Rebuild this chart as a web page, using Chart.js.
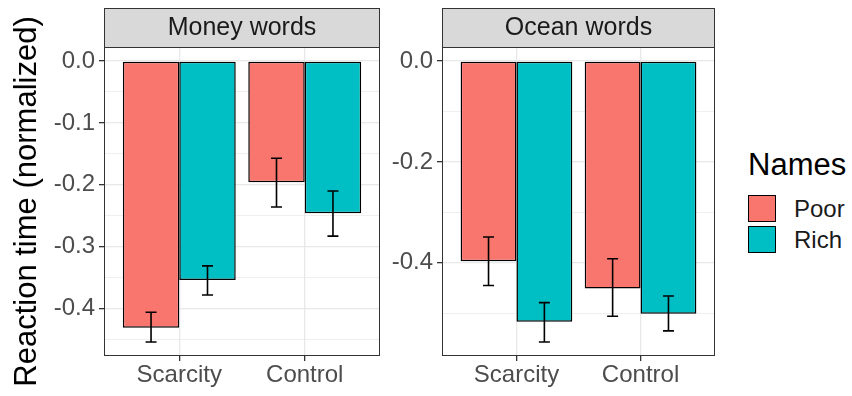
<!DOCTYPE html>
<html>
<head>
<meta charset="utf-8">
<script src="https://cdn.jsdelivr.net/npm/chart.js@4.4.1/dist/chart.umd.min.js"></script>
<style>
    html, body { margin: 0; padding: 0; background: #fff; }
    #wrap { position: relative; width: 852px; height: 396px; overflow: hidden; font-family: "Liberation Sans", Arial, sans-serif; }
    canvas { position: absolute; top: 0; }
    #moneyChart { left: 0; }
    #oceanChart { left: 384px; }
    .leg-title { position: absolute; left: 748px; top: 149px; font-size: 31px; line-height: 31px; color: #000; }
    .leg-key { position: absolute; left: 748px; width: 26px; height: 25px; border: 1.5px solid #000; }
    .leg-label { position: absolute; left: 794px; font-size: 24px; line-height: 24px; color: #1a1a1a; }
</style>
</head>
<body>
<div id="wrap">
    <canvas id="moneyChart" width="384" height="396"></canvas>
    <canvas id="oceanChart" width="340" height="396"></canvas>
    <div id="legend"></div>
</div>
<script>
// --- Data ---
const categories = ['Scarcity', 'Control'];
const groups = ['Poor', 'Rich'];
const groupColors = ['#F8766D', '#00BFC4'];
const panelTitles = ['Money words', 'Ocean words'];
const legendTitle = 'Names';
const yTitle = 'Reaction time (normalized)';

// Money words
const moneyPoor = [-0.431, -0.196];
const moneyRich = [-0.354, -0.246];
const moneyPoorLow = [-0.454, -0.236];
const moneyPoorHigh = [-0.406, -0.157];
const moneyRichLow = [-0.378, -0.283];
const moneyRichHigh = [-0.331, -0.210];
const moneyTicks = [0, -0.1, -0.2, -0.3, -0.4];
const moneyMinorTicks = [-0.05, -0.15, -0.25, -0.35, -0.45];

// Ocean words
const oceanPoor = [-0.397, -0.451];
const oceanRich = [-0.517, -0.501];
const oceanPoorLow = [-0.445, -0.506];
const oceanPoorHigh = [-0.349, -0.392];
const oceanRichLow = [-0.557, -0.535];
const oceanRichHigh = [-0.479, -0.466];
const oceanTicks = [0, -0.2, -0.4];
const oceanMinorTicks = [-0.1, -0.3, -0.5];

const FONT = '"Liberation Sans", Arial, sans-serif';

// --- Plugins ---
const errorBarPlugin = {
    id: 'errorBars',
    afterDatasetsDraw(chart, args, opts) {
        const ctx = chart.ctx;
        const yScale = chart.scales.y;
        ctx.save();
        ctx.strokeStyle = '#000';
        ctx.lineWidth = 1.6;
        chart.data.datasets.forEach((ds, d) => {
            const meta = chart.getDatasetMeta(d);
            meta.data.forEach((bar, i) => {
                const yLo = yScale.getPixelForValue(opts.lows[d][i]);
                const yHi = yScale.getPixelForValue(opts.highs[d][i]);
                const half = 5.5;
                ctx.beginPath();
                ctx.moveTo(bar.x, yLo); ctx.lineTo(bar.x, yHi);
                ctx.moveTo(bar.x - half, yLo); ctx.lineTo(bar.x + half, yLo);
                ctx.moveTo(bar.x - half, yHi); ctx.lineTo(bar.x + half, yHi);
                ctx.stroke();
            });
        });
        ctx.restore();
    }
};

const facetPlugin = {
    id: 'facet',
    afterDraw(chart, args, opts) {
        const ctx = chart.ctx;
        const a = chart.chartArea;
        ctx.save();
        // panel border
        ctx.strokeStyle = '#333';
        ctx.lineWidth = 1;
        ctx.strokeRect(Math.round(a.left) + 0.5, Math.round(a.top) + 0.5, Math.round(a.right - a.left) - 1, Math.round(a.bottom - a.top) - 1);
        // strip
        const top = 8;
        ctx.fillStyle = '#D9D9D9';
        ctx.fillRect(a.left, top, a.right - a.left, a.top - top);
        ctx.strokeRect(Math.round(a.left) + 0.5, top + 0.5, Math.round(a.right - a.left) - 1, Math.round(a.top - top));
        ctx.fillStyle = '#1A1A1A';
        ctx.font = '25px ' + FONT;
        ctx.textAlign = 'center';
        ctx.textBaseline = 'middle';
        ctx.fillText(opts.text, (a.left + a.right) / 2, (top + a.top) / 2 + 1);
        // y axis title
        if (opts.yTitle) {
            ctx.translate(27, (a.top + a.bottom) / 2);
            ctx.rotate(-Math.PI / 2);
            ctx.fillStyle = '#000';
            ctx.font = '31px ' + FONT;
            ctx.fillText(opts.yTitle, 0, 0);
        }
        ctx.restore();
    }
};

// --- Chart builder ---
function makePanel(canvasId, title, series, lows, highs, majorTicks, minorTicks, yWidth, rightPad, showYTitle) {
    const allVals = [0, ...series.flat(), ...lows.flat(), ...highs.flat()];
    const lo = Math.min(...allVals);
    const hi = Math.max(...allVals);
    const span = hi - lo;
    const isMajor = v => majorTicks.some(t => Math.abs(t - v) < 1e-9);
    const yTickValues = [...majorTicks, ...minorTicks].sort((a, b) => a - b);

    return new Chart(document.getElementById(canvasId), {
        type: 'bar',
        data: {
            datasets: groups.map((g, d) => ({
                label: g,
                data: series[d].map((v, i) => ({ x: i, y: v })),
                backgroundColor: groupColors[d],
                borderColor: '#000',
                borderWidth: 1.5,
                borderSkipped: false,
                categoryPercentage: 0.9,
                barPercentage: 1.0
            }))
        },
        options: {
            responsive: false,
            animation: false,
            devicePixelRatio: 1,
            layout: { padding: { top: 47, right: rightPad, left: 0, bottom: 0 } },
            plugins: {
                legend: { display: false },
                tooltip: { enabled: false },
                errorBars: { lows, highs },
                facet: { text: title, yTitle: showYTitle ? yTitle : null }
            },
            scales: {
                x: {
                    type: 'linear',
                    offset: false,
                    min: -0.6,
                    max: categories.length - 1 + 0.6,
                    afterBuildTicks: s => { s.ticks = categories.map((c, i) => ({ value: i })); },
                    afterFit: s => { s.height = 40; },
                    ticks: {
                        callback: v => categories[Math.round(v)],
                        color: '#4D4D4D',
                        font: { family: FONT, size: 24 },
                        padding: 0,
                        maxRotation: 0,
                        autoSkip: false
                    },
                    grid: { color: '#E8E8E8', lineWidth: 1.3, tickColor: '#333', tickLength: 5, offset: false },
                    border: { display: false }
                },
                y: {
                    min: lo - 0.05 * span,
                    max: hi + 0.05 * span,
                    afterBuildTicks: s => { s.ticks = yTickValues.map(v => ({ value: v })); },
                    afterFit: s => { s.width = yWidth; },
                    ticks: {
                        callback: v => isMajor(v) ? v.toFixed(1) : '',
                        color: '#4D4D4D',
                        font: { family: FONT, size: 24 },
                        padding: 4,
                        autoSkip: false
                    },
                    grid: {
                        color: '#E8E8E8',
                        lineWidth: c => (c.tick && isMajor(c.tick.value)) ? 1.3 : 0.7,
                        tickColor: c => (c.tick && isMajor(c.tick.value)) ? '#333' : 'rgba(0,0,0,0)',
                        tickLength: 5
                    },
                    border: { display: false }
                }
            }
        },
        plugins: [errorBarPlugin, facetPlugin]
    });
}

makePanel('moneyChart', panelTitles[0], [moneyPoor, moneyRich],
    [moneyPoorLow, moneyRichLow], [moneyPoorHigh, moneyRichHigh],
    moneyTicks, moneyMinorTicks, 104, 4, true);

makePanel('oceanChart', panelTitles[1], [oceanPoor, oceanRich],
    [oceanPoorLow, oceanRichLow], [oceanPoorHigh, oceanRichHigh],
    oceanTicks, oceanMinorTicks, 58, 9, false);

// --- Legend (HTML) ---
const legend = document.getElementById('legend');
legend.innerHTML = `<div class="leg-title">${legendTitle}</div>` +
    groups.map((g, d) => {
        const top = 195 + d * 31;
        return `<div class="leg-key" style="top:${top}px;background:${groupColors[d]}"></div>` +
               `<div class="leg-label" style="top:${top + 2}px">${g}</div>`;
    }).join('');
</script>
</body>
</html>
